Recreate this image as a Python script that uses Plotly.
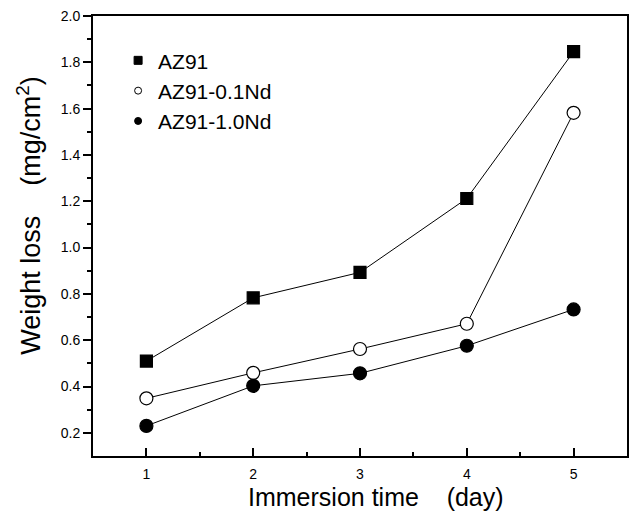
import plotly.graph_objects as go

days = [1, 2, 3, 4, 5]
az91 = [0.51, 0.783, 0.893, 1.212, 1.846]
az91_01nd = [0.349, 0.459, 0.562, 0.671, 1.582]
az91_10nd = [0.23, 0.403, 0.457, 0.576, 0.733]

x_title = "Immersion time\u00a0\u00a0\u00a0\u00a0(day)"
y_title = "Weight loss\u00a0\u00a0\u00a0\u00a0(mg/cm<sup>2</sup>)"

series = [
    ("AZ91", az91, "square", "black", 12, 8),
    ("AZ91-0.1Nd", az91_01nd, "circle", "white", 13, 7),
    ("AZ91-1.0Nd", az91_10nd, "circle", "black", 13, 7),
]

fig = go.Figure()
for name, vals, sym, fill, size, lsize in series:
    fig.add_trace(go.Scatter(
        x=days, y=vals, mode="lines+markers", name=name, showlegend=False,
        line=dict(color="black", width=1),
        marker=dict(symbol=sym, size=size, color=fill, line=dict(color="black", width=1.2)),
    ))
for name, vals, sym, fill, size, lsize in series:
    fig.add_trace(go.Scatter(
        x=[None], y=[None], mode="markers", name=name, showlegend=True,
        marker=dict(symbol=sym, size=lsize, color=fill, line=dict(color="black", width=1)),
    ))

fig.update_layout(
    width=633, height=518,
    margin=dict(l=93, r=4, t=16, b=62),
    paper_bgcolor="white", plot_bgcolor="white",
    font=dict(family="Liberation Sans, Arial, sans-serif", color="black"),
    showlegend=True,
    legend=dict(x=0.047, y=0.945, xanchor="left", yanchor="top",
                font=dict(size=21), bgcolor="rgba(0,0,0,0)",
                itemsizing="trace", tracegroupgap=0),
    xaxis=dict(
        range=[0.5, 5.5], tickmode="array", tickvals=days,
        ticks="inside", ticklen=8, tickwidth=1.5, tickcolor="black",
        minor=dict(tickmode="array", tickvals=[0.5, 1.5, 2.5, 3.5, 4.5, 5.5],
                   ticks="inside", ticklen=4, tickwidth=1.5, tickcolor="black"),
        showline=True, linecolor="black", linewidth=2, mirror=True,
        showgrid=False, zeroline=False,
        tickfont=dict(size=14), ticklabelstandoff=4,
    ),
    yaxis=dict(
        range=[0.1, 2.0], tickmode="array",
        tickvals=[0.2, 0.4, 0.6, 0.8, 1.0, 1.2, 1.4, 1.6, 1.8, 2.0],
        ticktext=["0.2", "0.4", "0.6", "0.8", "1.0", "1.2", "1.4", "1.6", "1.8", "2.0"],
        ticks="outside", ticklen=8, tickwidth=1.5, tickcolor="black",
        minor=dict(tickmode="array", tickvals=[0.3, 0.5, 0.7, 0.9, 1.1, 1.3, 1.5, 1.7, 1.9],
                   ticks="outside", ticklen=4, tickwidth=1.5, tickcolor="black"),
        showline=True, linecolor="black", linewidth=2, mirror=True,
        showgrid=False, zeroline=False,
        tickfont=dict(size=14),
    ),
    annotations=[
        dict(text=x_title, xref="paper", yref="paper", x=0.530, y=-0.094,
             xanchor="center", yanchor="middle", showarrow=False, font=dict(size=25)),
        dict(text=y_title, xref="paper", yref="paper", x=-0.12, y=0.548,
             xanchor="center", yanchor="middle", showarrow=False, textangle=-90,
             font=dict(size=27)),
    ],
)

fig.write_html("out.html")
